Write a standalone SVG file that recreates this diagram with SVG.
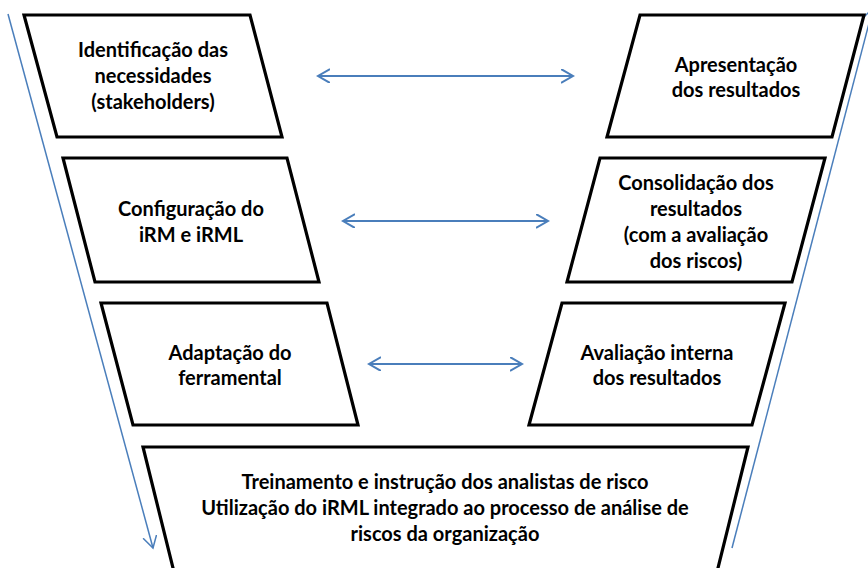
<svg xmlns="http://www.w3.org/2000/svg" width="868" height="568" viewBox="0 0 868 568">
<style>
.box{fill:#fff;stroke:#000;stroke-width:3.2;stroke-linejoin:miter}
.t{font-family:Lato,"Open Sans","Liberation Sans",sans-serif;font-weight:bold;font-size:20px;fill:#000;text-anchor:middle}
.c{fill:none;stroke:#4A7EBB;stroke-width:2}
.d{fill:none;stroke:#4A7EBB;stroke-width:1.5}
</style>
<defs>
<marker id="ah" markerUnits="userSpaceOnUse" markerWidth="16" markerHeight="18" refX="12" refY="7" orient="auto-start-reverse" viewBox="0 0 16 18">
<path d="M0,0 L12,7 L0,14" fill="none" stroke="#4A7EBB" stroke-width="2"/>
</marker>
<marker id="ahd" markerUnits="userSpaceOnUse" markerWidth="16" markerHeight="18" refX="12" refY="7" orient="auto" viewBox="0 0 16 18">
<path d="M0,0 L12,7 L0,14" fill="none" stroke="#4A7EBB" stroke-width="1.5"/>
</marker>
</defs>
<g id="connectors">
<line class="d" x1="8" y1="14" x2="153" y2="548" marker-end="url(#ahd)"/>
<line class="d" x1="732" y1="548" x2="873" y2="8" marker-end="url(#ahd)"/>
<line class="c" x1="318" y1="76" x2="573" y2="76" marker-start="url(#ah)" marker-end="url(#ah)"/>
<line class="c" x1="343" y1="221" x2="548" y2="221" marker-start="url(#ah)" marker-end="url(#ah)"/>
<line class="c" x1="369" y1="364" x2="522" y2="364" marker-start="url(#ah)" marker-end="url(#ah)"/>
</g>
<g id="n1">
<polygon class="box" points="24,15 250,15 282,137 57,137"/>
<text class="t" x="153" y="57">Identificação das</text>
<text class="t" x="153" y="83">necessidades</text>
<text class="t" x="153" y="109">(stakeholders)</text>
</g>
<g id="n2">
<polygon class="box" points="63,158 287,158 319,282 95,282"/>
<text class="t" x="191" y="216">Configuração  do</text>
<text class="t" x="191" y="242">iRM e iRML</text>
</g>
<g id="n3">
<polygon class="box" points="101,303 327,303 358,425 133,425"/>
<text class="t" x="230" y="360">Adaptação do</text>
<text class="t" x="230" y="385">ferramental</text>
</g>
<g id="n4">
<polygon class="box" points="143,447 748,447 717,572 174,572"/>
<text class="t" x="445" y="489">Treinamento e instrução dos analistas de risco</text>
<text class="t" x="445" y="515">Utilização do iRML integrado ao processo de análise de</text>
<text class="t" x="445" y="541">riscos da organização</text>
</g>
<g id="n5">
<polygon class="box" points="562,303 785,303 752,425 529,425"/>
<text class="t" x="657" y="360">Avaliação interna</text>
<text class="t" x="657" y="385">dos resultados</text>
</g>
<g id="n6">
<polygon class="box" points="600,158 825,158 792,282 567,282"/>
<text class="t" x="696" y="190">Consolidação  dos</text>
<text class="t" x="696" y="216">resultados</text>
<text class="t" x="696" y="242">(com a avaliação</text>
<text class="t" x="696" y="268">dos riscos)</text>
</g>
<g id="n7">
<polygon class="box" points="640,15 864,15 832,137 607,137"/>
<text class="t" x="736" y="72">Apresentação</text>
<text class="t" x="736" y="97">dos resultados</text>
</g>
</svg>
